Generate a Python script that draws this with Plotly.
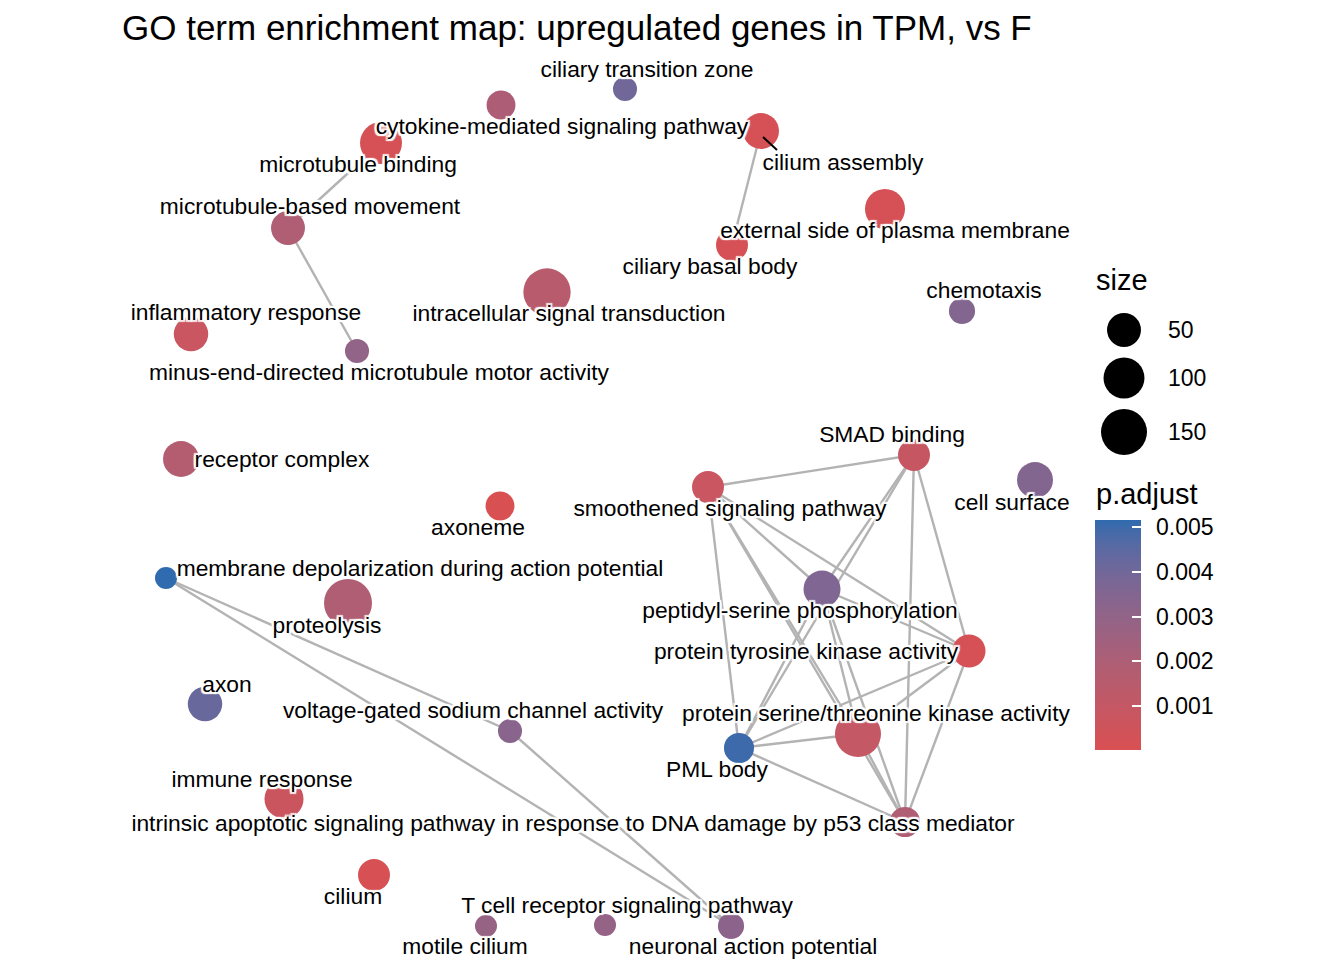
import plotly.graph_objects as go

# ---------------- data ----------------
terms = [
    "ciliary transition zone", "cytokine-mediated signaling pathway", "microtubule binding",
    "cilium assembly", "microtubule-based movement", "external side of plasma membrane",
    "ciliary basal body", "intracellular signal transduction", "chemotaxis",
    "inflammatory response", "minus-end-directed microtubule motor activity", "receptor complex",
    "SMAD binding", "smoothened signaling pathway", "cell surface", "axoneme",
    "membrane depolarization during action potential", "peptidyl-serine phosphorylation",
    "proteolysis", "protein tyrosine kinase activity", "axon",
    "voltage-gated sodium channel activity", "protein serine/threonine kinase activity",
    "PML body", "immune response",
    "intrinsic apoptotic signaling pathway in response to DNA damage by p53 class mediator",
    "cilium", "T cell receptor signaling pathway", "motile cilium", "neuronal action potential",
]
# graph layout coordinates of the nodes
layout_x = [625, 501, 381, 761, 288, 885, 732, 547, 962, 191, 357, 181, 914, 708, 1035,
            500, 166, 822, 348, 969, 205, 510, 858, 739, 284, 905, 374, 605, 486, 731]
layout_y = [89, 105, 143, 131, 228, 209, 245, 292, 311, 334, 351, 459, 455, 487, 480,
            506, 578, 589, 603, 651, 704, 731, 734, 748, 799, 822, 875, 925, 926, 926]
gene_count = [18, 28, 109, 62, 50, 92, 40, 165, 21, 53, 18, 62, 40, 40, 62,
              28, 17, 69, 173, 45, 53, 18, 150, 32, 84, 32, 40, 17, 17, 21]
p_adjust = [0.0040, 0.0020, 0.0002, 0.0002, 0.0019, 0.0002, 0.0002, 0.0015, 0.0035, 0.0008,
            0.0030, 0.0017, 0.0009, 0.0008, 0.0035, 0.00002, 0.00516, 0.0036, 0.0019, 0.0002,
            0.0042, 0.0033, 0.0010, 0.0050, 0.0007, 0.0019, 0.0001, 0.0029, 0.0028, 0.0032]

edges = [
    ("microtubule binding", "microtubule-based movement"),
    ("microtubule-based movement", "minus-end-directed microtubule motor activity"),
    ("cilium assembly", "ciliary basal body"),
    ("membrane depolarization during action potential", "voltage-gated sodium channel activity"),
    ("membrane depolarization during action potential", "neuronal action potential"),
    ("voltage-gated sodium channel activity", "neuronal action potential"),
    ("SMAD binding", "smoothened signaling pathway"),
    ("SMAD binding", "peptidyl-serine phosphorylation"),
    ("SMAD binding", "PML body"),
    ("SMAD binding", "protein tyrosine kinase activity"),
    ("SMAD binding", "intrinsic apoptotic signaling pathway in response to DNA damage by p53 class mediator"),
    ("smoothened signaling pathway", "peptidyl-serine phosphorylation"),
    ("smoothened signaling pathway", "protein tyrosine kinase activity"),
    ("smoothened signaling pathway", "PML body"),
    ("smoothened signaling pathway", "protein serine/threonine kinase activity"),
    ("smoothened signaling pathway", "intrinsic apoptotic signaling pathway in response to DNA damage by p53 class mediator"),
    ("peptidyl-serine phosphorylation", "protein tyrosine kinase activity"),
    ("peptidyl-serine phosphorylation", "PML body"),
    ("peptidyl-serine phosphorylation", "protein serine/threonine kinase activity"),
    ("peptidyl-serine phosphorylation", "intrinsic apoptotic signaling pathway in response to DNA damage by p53 class mediator"),
    ("protein tyrosine kinase activity", "PML body"),
    ("protein tyrosine kinase activity", "protein serine/threonine kinase activity"),
    ("protein tyrosine kinase activity", "intrinsic apoptotic signaling pathway in response to DNA damage by p53 class mediator"),
    ("PML body", "protein serine/threonine kinase activity"),
    ("PML body", "intrinsic apoptotic signaling pathway in response to DNA damage by p53 class mediator"),
    ("protein serine/threonine kinase activity", "intrinsic apoptotic signaling pathway in response to DNA damage by p53 class mediator"),
]

size_breaks = [50, 100, 150]
color_breaks = [0.001, 0.002, 0.003, 0.004, 0.005]

# ---------------- style ----------------
FONT = "Liberation Sans"
W, H = 1344, 960
LOW, HIGH = "#D95052", "#2F6BAE"
D_MIN, D_MAX = 22, 48
CB_LEFT, CB_TOP, CB_W, CB_LEN = 1095, 520, 46, 230
LABEL_DY = 1.5

# repelled label offsets (label centre relative to node), px
label_offset = {
    "ciliary transition zone": (22, -19), "cytokine-mediated signaling pathway": (61, 22),
    "microtubule binding": (-23, 22), "cilium assembly": (82, 32),
    "microtubule-based movement": (22, -21), "external side of plasma membrane": (10, 22),
    "ciliary basal body": (-22, 22), "intracellular signal transduction": (22, 22),
    "chemotaxis": (22, -20), "inflammatory response": (55, -21),
    "minus-end-directed microtubule motor activity": (22, 22), "receptor complex": (101, 1),
    "SMAD binding": (-22, -20), "smoothened signaling pathway": (22, 22),
    "cell surface": (-23, 23), "axoneme": (-22, 22),
    "membrane depolarization during action potential": (254, -9),
    "peptidyl-serine phosphorylation": (-22, 22), "proteolysis": (-21, 23),
    "protein tyrosine kinase activity": (-163, 1), "axon": (22, -19),
    "voltage-gated sodium channel activity": (-37, -20),
    "protein serine/threonine kinase activity": (18, -20), "PML body": (-22, 22),
    "immune response": (-22, -19),
    "intrinsic apoptotic signaling pathway in response to DNA damage by p53 class mediator": (-332, 2),
    "cilium": (-21, 22), "T cell receptor signaling pathway": (22, -19),
    "motile cilium": (-21, 21), "neuronal action potential": (22, 21),
}
# ggrepel leader segments: (start offset, end offset) from node
leader = {"cilium assembly": ((2, 6), (16, 19))}


# ---------------- helpers ----------------
def hex2rgb(h):
    h = h.lstrip("#")
    return [int(h[i:i + 2], 16) for i in (0, 2, 4)]


def rgb2lab(rgb):
    def lin(c):
        c = c / 255
        return c / 12.92 if c <= 0.04045 else ((c + 0.055) / 1.055) ** 2.4
    r, g, b = [lin(c) for c in rgb]
    X = (0.4124 * r + 0.3576 * g + 0.1805 * b) / 0.95047
    Y = (0.2126 * r + 0.7152 * g + 0.0722 * b)
    Z = (0.0193 * r + 0.1192 * g + 0.9505 * b) / 1.08883

    def f(t):
        return t ** (1 / 3) if t > 0.008856 else 7.787 * t + 16 / 116
    fx, fy, fz = f(X), f(Y), f(Z)
    return [116 * fy - 16, 500 * (fx - fy), 200 * (fy - fz)]


def lab2rgb(lab):
    L, a, b = lab
    fy = (L + 16) / 116
    fx = fy + a / 500
    fz = fy - b / 200

    def finv(t):
        return t ** 3 if t ** 3 > 0.008856 else (t - 16 / 116) / 7.787
    X, Y, Z = finv(fx) * 0.95047, finv(fy), finv(fz) * 1.08883
    r = 3.2406 * X - 1.5372 * Y - 0.4986 * Z
    g = -0.9689 * X + 1.8758 * Y + 0.0415 * Z
    bb = 0.0557 * X - 0.2040 * Y + 1.0570 * Z

    def gam(c):
        c = 12.92 * c if c <= 0.0031308 else 1.055 * c ** (1 / 2.4) - 0.055
        return max(0, min(255, round(c * 255)))
    return "rgb(%d,%d,%d)" % (gam(r), gam(g), gam(bb))


lab_lo, lab_hi = rgb2lab(hex2rgb(LOW)), rgb2lab(hex2rgb(HIGH))
colorscale = []
for i in range(21):
    t = i / 20
    colorscale.append([t, lab2rgb([lab_lo[k] + (lab_hi[k] - lab_lo[k]) * t for k in range(3)])])

vmin, vmax = min(gene_count), max(gene_count)
cmin, cmax = min(p_adjust), max(p_adjust)


def diam(v):
    return D_MIN + (D_MAX - D_MIN) * ((v - vmin) / (vmax - vmin)) ** 0.5


def cb_y(v):
    return CB_TOP + (cmax - v) / (cmax - cmin) * CB_LEN


idx = {t: i for i, t in enumerate(terms)}

fig = go.Figure()

# edges
ex, ey = [], []
for a, b in edges:
    ex += [layout_x[idx[a]], layout_x[idx[b]], None]
    ey += [layout_y[idx[a]], layout_y[idx[b]], None]
fig.add_trace(go.Scatter(x=ex, y=ey, mode="lines", line=dict(color="#B3B3B3", width=2.4),
                         hoverinfo="skip", showlegend=False))

# nodes
fig.add_trace(go.Scatter(
    x=layout_x, y=layout_y, mode="markers", text=terms, hoverinfo="text",
    showlegend=False,
    marker=dict(size=[diam(v) for v in gene_count], color=p_adjust, colorscale=colorscale,
                cmin=cmin, cmax=cmax, opacity=1, line=dict(width=0),
                showscale=True,
                colorbar=dict(x=CB_LEFT / W, xanchor="left", xref="container",
                              y=1 - CB_TOP / H, yanchor="top", yref="container",
                              len=CB_LEN, lenmode="pixels", thickness=CB_W,
                              thicknessmode="pixels",
                              xpad=0, ypad=0, outlinewidth=0,
                              tickvals=color_breaks, showticklabels=False,
                              ticks="inside", ticklen=9, tickwidth=1.5, tickcolor="white")),
))

for v in color_breaks:
    fig.add_annotation(x=CB_LEFT + CB_W + 13, y=cb_y(v), xref="x", yref="y", text="%.3f" % v,
                       showarrow=False, xanchor="left", yanchor="middle",
                       font=dict(family=FONT, size=23, color="black"))

# leader segments
for t, (s, e) in leader.items():
    i = idx[t]
    fig.add_trace(go.Scatter(x=[layout_x[i] + s[0], layout_x[i] + e[0]],
                             y=[layout_y[i] + s[1], layout_y[i] + e[1]],
                             mode="lines", line=dict(color="black", width=2),
                             hoverinfo="skip", showlegend=False))

# labels with white halo
halo = ", ".join("white %dpx %dpx 1px" % (dx, dy) for dx in (-2, 0, 2) for dy in (-2, 0, 2)
                 if (dx, dy) != (0, 0))
fig.add_trace(go.Scatter(
    x=[layout_x[i] + label_offset[t][0] for i, t in enumerate(terms)],
    y=[layout_y[i] + label_offset[t][1] + LABEL_DY for i, t in enumerate(terms)],
    mode="text", text=terms, textposition="middle center", hoverinfo="skip",
    textfont=dict(family=FONT, size=22.8, color="black", shadow=halo), showlegend=False))

# size legend
key_x, key_y = 1124, [330, 378, 432]
fig.add_trace(go.Scatter(x=[key_x] * 3, y=key_y, mode="markers",
                         marker=dict(size=[diam(v) for v in size_breaks], color="#000000",
                                     opacity=1, line=dict(width=0)),
                         hoverinfo="skip", showlegend=False))
for v, yy in zip(size_breaks, key_y):
    fig.add_annotation(x=1166, y=yy, xref="x", yref="y", text=str(v), showarrow=False,
                       xanchor="left", yanchor="middle",
                       font=dict(family=FONT, size=23, color="black"))

fig.add_annotation(x=1094, y=280, xref="x", yref="y", text="size", showarrow=False,
                   xanchor="left", yanchor="middle", font=dict(family=FONT, size=29, color="black"))
fig.add_annotation(x=1094, y=494, xref="x", yref="y", text="p.adjust", showarrow=False,
                   xanchor="left", yanchor="middle", font=dict(family=FONT, size=29, color="black"))

fig.update_layout(
    width=W, height=H, margin=dict(l=0, r=0, t=0, b=0, pad=0, autoexpand=False),
    paper_bgcolor="white", plot_bgcolor="white",
    title=dict(text="GO term enrichment map: upregulated genes in TPM, vs F",
               x=122 / W, xanchor="left", y=1 - 28 / H, yanchor="middle",
               xref="container", yref="container",
               font=dict(family=FONT, size=35, color="black")),
    xaxis=dict(range=[0, W], domain=[0, 1], visible=False, fixedrange=True),
    yaxis=dict(range=[H, 0], domain=[0, 1], visible=False, fixedrange=True),
    showlegend=False,
)

fig.write_html("out.html", config={"displayModeBar": False},
               post_script="document.body.style.margin='0px';document.body.style.overflow='hidden';")
